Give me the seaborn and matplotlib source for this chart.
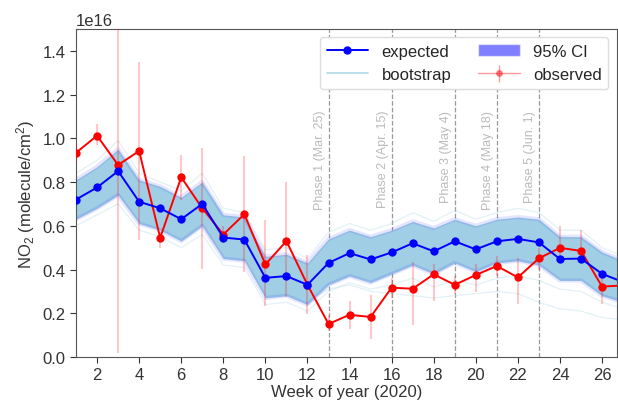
import numpy as np
import pandas as pd
import matplotlib
matplotlib.use("Agg")
import matplotlib.pyplot as plt
import seaborn as sns
from matplotlib.lines import Line2D
from matplotlib.patches import Patch

# data, in units of 1e16 molecule/cm2
weeks = list(range(1, 28))
expected = [0.72, 0.775, 0.85, 0.71, 0.68, 0.63, 0.70, 0.546, 0.537, 0.362, 0.37, 0.33, 0.43, 0.475,
            0.446, 0.478, 0.52, 0.483, 0.529, 0.492, 0.529, 0.54, 0.524, 0.448, 0.45, 0.38, 0.343]
observed = [0.934, 1.012, 0.878, 0.942, 0.545, 0.822, 0.68, 0.56, 0.653, 0.423, 0.53, 0.33, 0.151, 0.193,
            0.183, 0.317, 0.312, 0.378, 0.33, 0.375, 0.416, 0.364, 0.451, 0.499, 0.485, 0.322, 0.327]
obs_low = [0.89, 0.97, 0.02, 0.534, 0.50, 0.72, 0.404, 0.52, 0.39, 0.235, 0.274, 0.197, 0.12, 0.128,
           0.08, 0.27, 0.148, 0.258, 0.29, 0.298, 0.37, 0.243, 0.40, 0.46, 0.44, 0.243, 0.29]
obs_high = [0.98, 1.064, 1.55, 1.35, 0.57, 0.923, 0.957, 0.60, 0.92, 0.625, 0.80, 0.468, 0.19, 0.254,
            0.284, 0.36, 0.434, 0.427, 0.37, 0.427, 0.46, 0.454, 0.50, 0.598, 0.58, 0.366, 0.36]
ci_upper = [0.81, 0.87, 0.95, 0.81, 0.78, 0.73, 0.80, 0.65, 0.64, 0.46, 0.47, 0.43, 0.54, 0.58,
            0.55, 0.58, 0.62, 0.59, 0.63, 0.60, 0.63, 0.64, 0.63, 0.55, 0.55, 0.48, 0.44]
ci_lower = [0.63, 0.68, 0.74, 0.61, 0.58, 0.53, 0.60, 0.45, 0.44, 0.27, 0.28, 0.24, 0.33, 0.37,
            0.34, 0.38, 0.42, 0.38, 0.43, 0.39, 0.43, 0.44, 0.42, 0.35, 0.35, 0.28, 0.25]
# a few bootstrap runs
boot_hi = [0.84, 0.90, 0.99, 0.84, 0.80, 0.76, 0.84, 0.68, 0.66, 0.49, 0.50, 0.45, 0.57, 0.61,
           0.58, 0.61, 0.66, 0.62, 0.67, 0.63, 0.66, 0.68, 0.66, 0.58, 0.58, 0.50, 0.46]
boot_lo = [0.60, 0.65, 0.70, 0.58, 0.55, 0.50, 0.56, 0.42, 0.41, 0.24, 0.25, 0.21, 0.30, 0.34,
           0.31, 0.33, 0.36, 0.32, 0.35, 0.33, 0.36, 0.37, 0.35, 0.31, 0.30, 0.25, 0.22]
boot_out = [0.65, 0.70, 0.76, 0.62, 0.59, 0.54, 0.60, 0.46, 0.45, 0.28, 0.29, 0.26, 0.31, 0.33,
            0.30, 0.29, 0.28, 0.27, 0.28, 0.29, 0.30, 0.29, 0.25, 0.22, 0.21, 0.18, 0.17]
boot_out2 = [0.78, 0.84, 0.93, 0.77, 0.74, 0.69, 0.77, 0.61, 0.60, 0.43, 0.44, 0.40, 0.50, 0.55,
             0.52, 0.55, 0.58, 0.56, 0.60, 0.56, 0.60, 0.61, 0.60, 0.55, 0.54, 0.47, 0.42]
phase_weeks = [13, 16, 19, 21, 23]
phase_labels = ["Phase 1 (Mar. 25)", "Phase 2 (Apr. 15)", "Phase 3 (May 4)",
                "Phase 4 (May 18)", "Phase 5 (Jun. 1)"]

scale = 1e16
df = pd.DataFrame({"week": weeks,
                   "expected": np.array(expected) * scale,
                   "observed": np.array(observed) * scale})
lo = np.array(ci_lower) * scale
hi = np.array(ci_upper) * scale

sns.set_style("ticks")
plt.rcParams["font.family"] = ["Liberation Sans", "DejaVu Sans"]
plt.rcParams["mathtext.default"] = "regular"

fig = plt.figure(figsize=(6.18, 4.02), dpi=100)
ax = fig.add_axes([0.123, 0.1095, 0.875, 0.816])

# bootstrap runs
for run in [boot_hi, boot_lo, boot_out, boot_out2]:
    ax.plot(weeks, np.array(run) * scale, color="lightblue", alpha=0.35, lw=0.9, zorder=1)

# confidence band
ax.fill_between(weeks, lo, hi, color="#a0cfe5", lw=0, zorder=2)
ax.plot(weeks, hi, color="blue", alpha=0.1, lw=3, zorder=2)
ax.plot(weeks, lo, color="blue", alpha=0.1, lw=3, zorder=2)

# observed error bars
obs = df["observed"].values
yerr = [obs - np.array(obs_low) * scale, np.array(obs_high) * scale - obs]
ax.errorbar(weeks, obs, yerr=yerr, fmt="none", ecolor="red", alpha=0.22, elinewidth=1.5, zorder=3)

sns.lineplot(data=df, x="week", y="expected", color="blue", marker="o", markersize=6,
             markeredgewidth=0, lw=1.4, ax=ax, zorder=5)
sns.lineplot(data=df, x="week", y="observed", color="red", marker="o", markersize=6,
             markeredgewidth=0, lw=1.4, ax=ax, zorder=4)

# lockdown phases
for w, lab in zip(phase_weeks, phase_labels):
    ax.axvline(w, color="#999999", ls="--", lw=0.9, zorder=0)
    ax.text(w - 0.12, 1.13 * scale, lab, rotation=90, ha="right", va="top",
            color="#bbbbbb", fontsize=9)

ax.set_xlim(1, 26.7)
ax.set_ylim(0, 1.5 * scale)
ax.set_xticks(range(2, 27, 2))
ax.set_yticks(np.arange(0, 1.41, 0.2) * scale)
ax.tick_params(labelsize=12, colors="#333333", length=4)
ax.yaxis.get_offset_text().set_fontsize(12)
ax.set_xlabel("Week of year (2020)", fontsize=12, color="#333333", labelpad=1)
ax.set_ylabel("NO$_2$ (molecule/cm$^2$)", fontsize=12, color="#333333")
for s in ax.spines.values():
    s.set_color("#555555")

obs_handle = ax.errorbar([np.nan], [np.nan], yerr=[[np.nan], [np.nan]], fmt="-o", color="red",
                         alpha=0.4, ms=4, lw=1)
handles = [Line2D([], [], color="blue", marker="o", ms=5, lw=1.4),
           Line2D([], [], color="lightblue", lw=1.2),
           Patch(facecolor="blue", alpha=0.5),
           obs_handle]
labels = ["expected", "bootstrap", "95% CI", "observed"]
ax.legend(handles, labels, ncol=2, loc="upper right", fontsize=12, handlelength=2.5,
          columnspacing=1.6, borderaxespad=0.5, framealpha=1, edgecolor="#dddddd")

fig.savefig("out.png", dpi=100)
